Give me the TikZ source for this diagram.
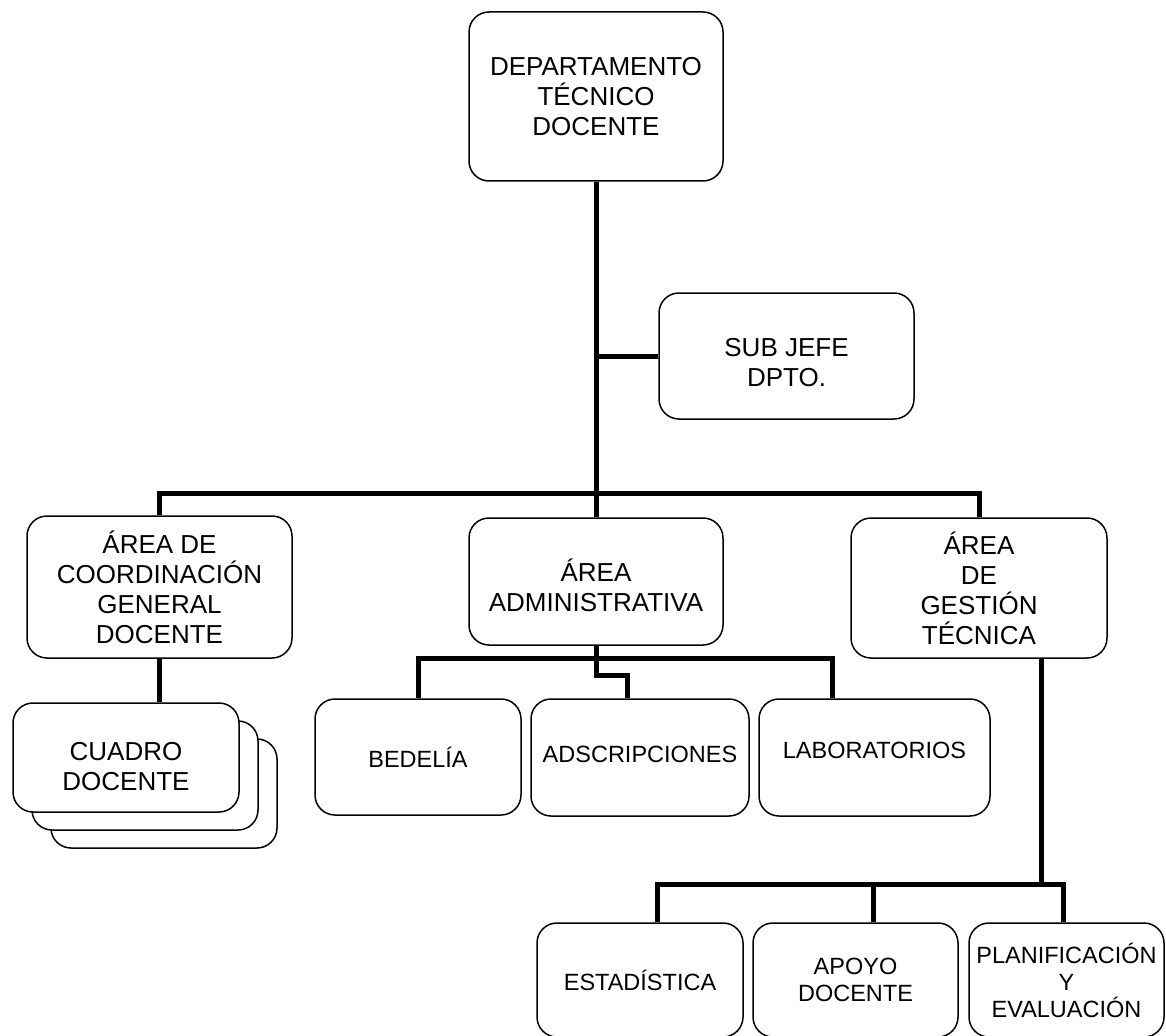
\documentclass[tikz,border=0pt]{standalone}
\usepackage{fontspec}
\setmainfont{Liberation Sans}
\usetikzlibrary{positioning}

\begin{document}
\begin{tikzpicture}[x=1pt ,y=-1pt ,line join=miter ,unit/.style ={draw ,fill=white ,rounded corners=20pt ,line width=1.5pt ,align=center ,inner sep=0pt ,font=\fontsize{26}{30}\selectfont} ,small/.style ={unit ,font=\fontsize{23.5}{27}\selectfont} ,link/.style ={line width=5pt}]
\useasboundingbox (0,0) rectangle (1166,1035);
\node[unit ,minimum width=254 ,minimum height=169] (dep) at (596,96.5) {DEPARTAMENTO\\TÉCNICO\\DOCENTE};
\node[unit ,minimum width=255 ,minimum height=126 ,text height=61pt] (subjefe) at (786.5,356) {SUB JEFE\\DPTO.};
\node[unit ,minimum width=265 ,minimum height=142] (coord) at (159.5,587) {ÁREA DE\\COORDINACIÓN\\GENERAL\\DOCENTE};
\node[unit ,minimum width=254 ,minimum height=127 ,text height=60.5pt] (admin) at (596,581.5) {ÁREA\\ADMINISTRATIVA};
\node[unit ,minimum width=256 ,minimum height=140] (gestion) at (979,588) {ÁREA\\DE\\GESTIÓN\\TÉCNICA};
\node[unit ,minimum width=226 ,minimum height=109] (cuadro3) at (164,793.5) {};
\node[unit ,minimum width=226 ,minimum height=109] (cuadro2) at (145,775.5) {};
\node[unit ,minimum width=226 ,minimum height=109 ,text height=66pt] (cuadro) at (126,757.5) {CUADRO\\DOCENTE};
\node[small ,minimum width=206 ,minimum height=116] (bedelia) at (418,757) {BEDELÍA};
\node[small ,minimum width=218 ,minimum height=117 ,text depth=6pt] (adscrip) at (640,757.5) {ADSCRIPCIONES};
\node[small ,minimum width=231 ,minimum height=117 ,text depth=14pt] (labor) at (874.5,757.5) {LABORATORIOS};
\node[small ,minimum width=206 ,minimum height=114] (estad) at (640,980) {ESTADÍSTICA};
\node[small ,minimum width=205 ,minimum height=114] (apoyo) at (855.5,980) {APOYO\\DOCENTE};
\node[small ,minimum width=195 ,minimum height=114] (planif) at (1066.5,980) {PLANIFICACIÓN\\Y\\EVALUACIÓN};
\coordinate (hub) at (596,493);
\coordinate (adminbar) at (596,658);
\coordinate (gbar) at (1041,884);
\draw[link] (dep.south) -- (hub);
\draw[link] (subjefe.west) -- (subjefe.west -| dep.south);
\draw[link] (coord.north) |- (hub) -| (gestion.north);
\draw[link] (hub) -- (admin.north);
\draw[link] (coord.south) -- (coord.south |- cuadro.north);
\draw[link] (bedelia.north) |- (adminbar) -| ([xshift=-42.5pt]labor.north);
\draw[link] (admin.south) -- ++(0,30) -| ([xshift=-13pt]adscrip.north);
\draw[link] ([xshift=62pt]gestion.south) -- (gbar);
\draw[link] ([xshift=17pt]estad.north) |- (gbar) -| ([xshift=-3.5pt]planif.north);
\draw[link] ([xshift=17.5pt]apoyo.north) -- ++(0,-39);
\end{tikzpicture}
\end{document}
